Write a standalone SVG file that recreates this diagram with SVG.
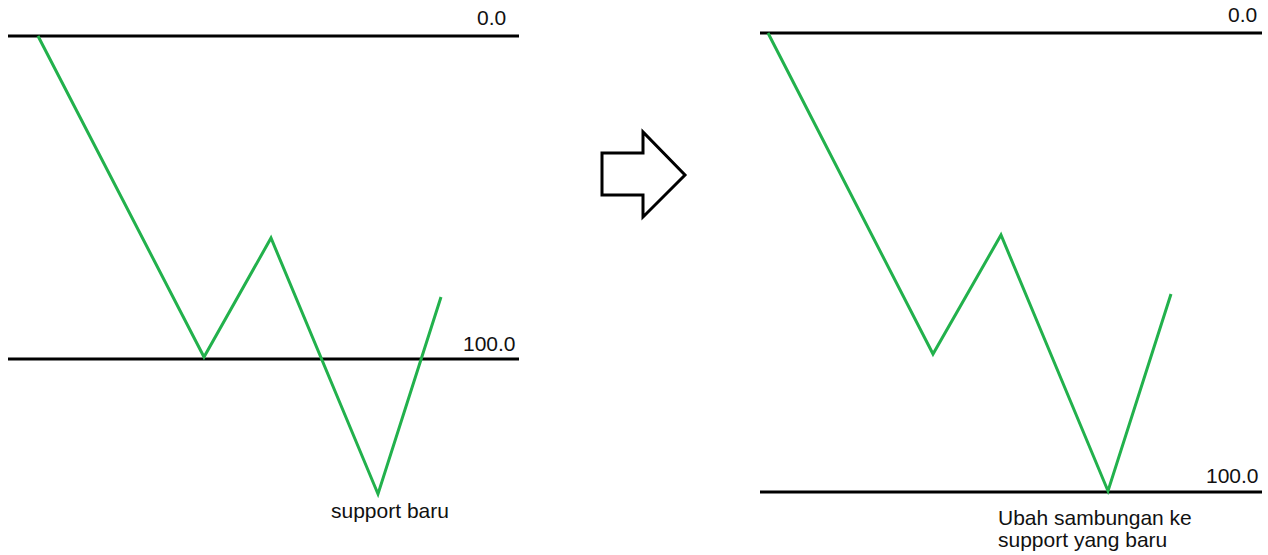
<svg xmlns="http://www.w3.org/2000/svg" width="1268" height="555" viewBox="0 0 1268 555">
<style>
.lvl{stroke:#000;stroke-width:3;fill:none}
.zz{stroke:#22b14c;stroke-width:3;fill:none;stroke-linejoin:miter}
.t{font-family:"Liberation Sans",Arial,sans-serif;font-size:21px;fill:#111}
</style>
<rect width="1268" height="555" fill="#fff"/>
<g id="left">
<line class="lvl" x1="8" y1="36" x2="519" y2="36"/>
<line class="lvl" x1="8" y1="359" x2="519" y2="359"/>
<polyline class="zz" points="38,36 204,357 271,238 378,494 441,297"/>
<text class="t" x="477" y="25">0.0</text>
<text class="t" x="463" y="351">100.0</text>
<text class="t" x="331" y="518">support baru</text>
</g>
<g id="arrow">
<polygon points="602,153 643,153 643,132 685,175 643,217 643,195 602,195" fill="#fff" stroke="#000" stroke-width="3"/>
</g>
<g id="right">
<line class="lvl" x1="760" y1="33" x2="1262" y2="33"/>
<line class="lvl" x1="760" y1="492" x2="1262" y2="492"/>
<polyline class="zz" points="768,33 933,354 1001,235 1108,491 1171,294"/>
<text class="t" x="1228" y="22">0.0</text>
<text class="t" x="1206" y="483">100.0</text>
<text class="t" x="998" y="525">Ubah sambungan ke</text>
<text class="t" x="998" y="547">support yang baru</text>
</g>
</svg>
